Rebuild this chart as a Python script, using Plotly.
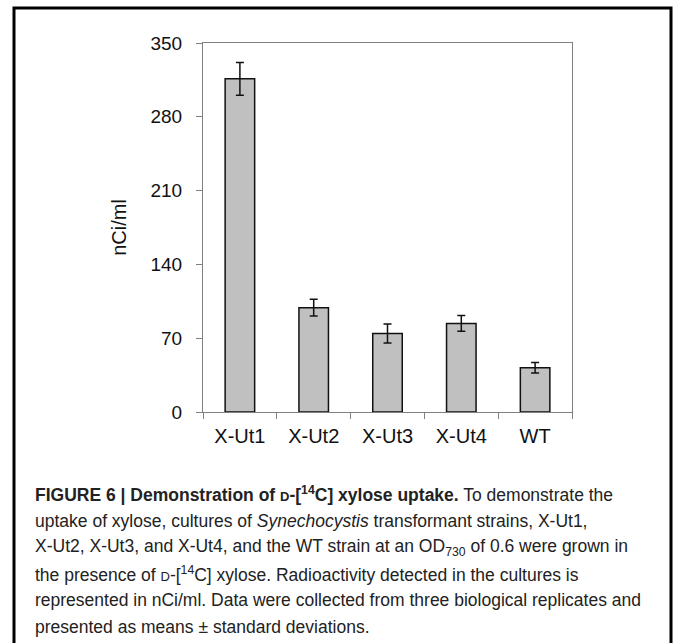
import plotly.graph_objects as go

strains = ["X-Ut1", "X-Ut2", "X-Ut3", "X-Ut4", "WT"]
uptake = [316, 99, 74.5, 84, 42]
uptake_sd = [15.5, 8, 9, 7.5, 5]
y_ticks = [0, 70, 140, 210, 280, 350]

W, H = 673, 643
L, R, T, B = 203, 101, 43, 231
PW, PH = W - L - R, H - T - B

def px(x):
    return (x - L) / PW

def py(y):
    return (H - B - y) / PH

fig = go.Figure()
fig.add_trace(go.Bar(
    x=strains, y=uptake, width=0.4,
    marker=dict(color="#c0c0c0", line=dict(color="#111111", width=1.5)),
    error_y=dict(type="data", array=uptake_sd, visible=True,
                 color="#111111", thickness=1.5, width=4),
))

fig.update_layout(
    width=W, height=H,
    margin=dict(l=L, r=R, t=T, b=B, pad=0),
    paper_bgcolor="white", plot_bgcolor="white",
    showlegend=False,
    font=dict(family="Liberation Sans, Arial, sans-serif", size=18, color="#111111"),
)
fig.update_yaxes(
    range=[0, 350], tickvals=y_ticks, showgrid=False, zeroline=False,
    showline=True, linecolor="#808080", linewidth=1, mirror=True,
    ticks="outside", ticklen=6, tickcolor="#808080",
    ticklabelstandoff=10,
    tickfont=dict(size=19),
    title=dict(text="nCi/ml", font=dict(size=20), standoff=18),
)
fig.update_xaxes(
    showgrid=False, zeroline=False,
    showline=True, linecolor="#808080", linewidth=1, mirror=True,
    ticks="outside", ticklen=6, tickcolor="#808080", tickson="boundaries",
    ticklabelstandoff=6,
    tickfont=dict(size=20),
)

# frame around figure
fig.add_shape(type="rect", xref="paper", yref="paper",
              x0=px(14), x1=px(671), y0=py(660), y1=py(8),
              line=dict(color="black", width=3), fillcolor="rgba(0,0,0,0)")

sc = "<span style='font-size:13px'>D</span>"
caption = [
    f"<b>FIGURE 6 | Demonstration of {sc}-[<sup>14</sup>C] xylose uptake.</b> To demonstrate the",
    "uptake of xylose, cultures of <i>Synechocystis</i> transformant strains, X-Ut1,",
    "X-Ut2, X-Ut3, and X-Ut4, and the WT strain at an OD<sub>730</sub> of 0.6 were grown in",
    f"the presence of {sc}-[<sup>14</sup>C] xylose. Radioactivity detected in the cultures is",
    "represented in nCi/ml. Data were collected from three biological replicates and",
    "presented as means \u00b1 standard deviations.",
]
for i, line in enumerate(caption):
    fig.add_annotation(
        xref="paper", yref="paper", x=px(33), y=py(494 + 26.5 * i),
        xanchor="left", yanchor="middle", showarrow=False, align="left",
        text=line, font=dict(family="Liberation Sans, Arial, sans-serif", size=17.5, color="#222222"),
    )

fig.write_html("out.html")
